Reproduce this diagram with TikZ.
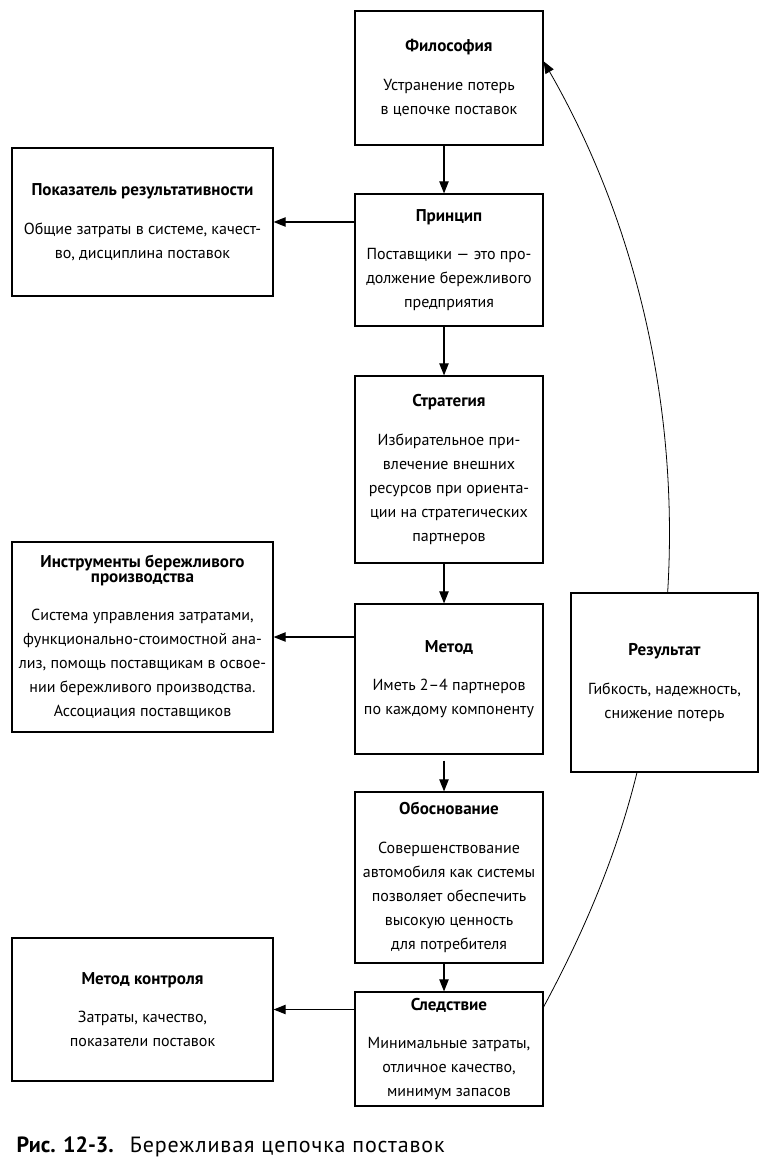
\documentclass[tikz,border=0pt]{standalone}
\usepackage{fontspec}
\setmainfont{PT Sans}
\usetikzlibrary{arrows.meta}
\newcommand{\hd}[1]{{\fontsize{12.8}{18}\selectfont\bfseries #1}\\[10.9pt]}

\begin{document}
\begin{tikzpicture}[x=0.75pt,y=-0.75pt,
  box/.style={draw,line width=0.9pt,align=center,inner sep=0pt,font=\fontsize{12}{18}\selectfont},
  arr/.style={line width=0.8pt,-{Triangle[length=9pt,width=7pt]}}]
  \useasboundingbox (0,0) rectangle (771,1176);
  % central column
  \node[box,minimum width=141pt,minimum height=100.5pt] (filo) at (449,78)
    {\hd{Философия}Устранение потерь\\в цепочке поставок};
  \node[box,minimum width=141pt,minimum height=99pt] (princ) at (449,260)
    {\hd{Принцип}Поставщики — это про-\\должение бережливого\\предприятия};
  \node[box,minimum width=141pt,minimum height=140.25pt] (strat) at (449,469.5)
    {\hd{Стратегия}Избирательное при-\\влечение внешних\\ресурсов при ориента-\\ции на стратегических\\партнеров};
  \node[box,minimum width=141pt,minimum height=112.5pt] (met) at (449,679)
    {\hd{Метод}Иметь 2–4 партнеров\\по каждому компоненту};
  \node[box,minimum width=141pt,minimum height=128.25pt] (obos) at (449,877.5)
    {\hd{Обоснование}Совершенствование\\автомобиля как системы\\позволяет обеспечить\\высокую ценность\\для потребителя};
  \node[box,minimum width=141pt,minimum height=85.5pt] (sled) at (449,1049)
    {\hd{Следствие}Минимальные затраты,\\отличное качество,\\минимум запасов};
  % left column
  \node[box,minimum width=195.75pt,minimum height=111pt] (pokaz) at (142.5,222)
    {\hd{Показатель результативности}Общие затраты в системе, качест-\\во, дисциплина поставок};
  \node[box,minimum width=195.75pt,minimum height=142.5pt] (instr) at (142.5,637)
    {{\fontsize{12.8}{18}\selectfont\bfseries Инструменты бережливого}\\[-6.75pt]\hd{производства}Система управления затратами,\\функционально-стоимостной ана-\\лиз, помощь поставщикам в освое-\\нии бережливого производства.\\Ассоциация поставщиков};
  \node[box,minimum width=195.75pt,minimum height=107.25pt] (kontr) at (142.5,1009.5)
    {\hd{Метод контроля}Затраты, качество,\\показатели поставок};
  % result
  \node[box,minimum width=140.25pt,minimum height=134.25pt] (rez) at (664.5,682.5)
    {\hd{Результат}Гибкость, надежность,\\снижение потерь};
  % arrows down
  \draw[arr] ([xshift=-3.75pt]filo.south) -- ([xshift=-3.75pt]princ.north);
  \draw[arr] ([xshift=-3.75pt]princ.south) -- ([xshift=-3.75pt]strat.north);
  \draw[arr] ([xshift=-3.75pt]strat.south) -- ([xshift=-3.75pt]met.north);
  \draw[arr,shorten <=4.5pt] ([xshift=-3.75pt]met.south) -- ([xshift=-3.75pt]obos.north);
  \draw[arr] ([xshift=-3.75pt]obos.south) -- ([xshift=-3.75pt]sled.north);
  % arrows left
  \draw[arr] (princ.west |- pokaz.east) -- (pokaz.east);
  \draw[arr] (met.west |- instr.east) -- (instr.east);
  \draw[arr] (sled.west |- kontr.east) -- (kontr.east);
  % feedback arc
  \draw[line width=0.6pt] (sled.24) .. controls (584,932) and (617,854) .. (rez.253);
  \draw[arr,line width=0.6pt] (rez.88) .. controls (679,408) and (637,224) .. (filo.10);
  % caption
  \node[anchor=base west,font=\fontsize{16.5}{18}\selectfont] (cap) at (12,1152)
    {\textbf{Рис. 12-3.}\hspace{12pt}{\addfontfeatures{LetterSpace=4}Бережливая цепочка поставок}};
\end{tikzpicture}
\end{document}
